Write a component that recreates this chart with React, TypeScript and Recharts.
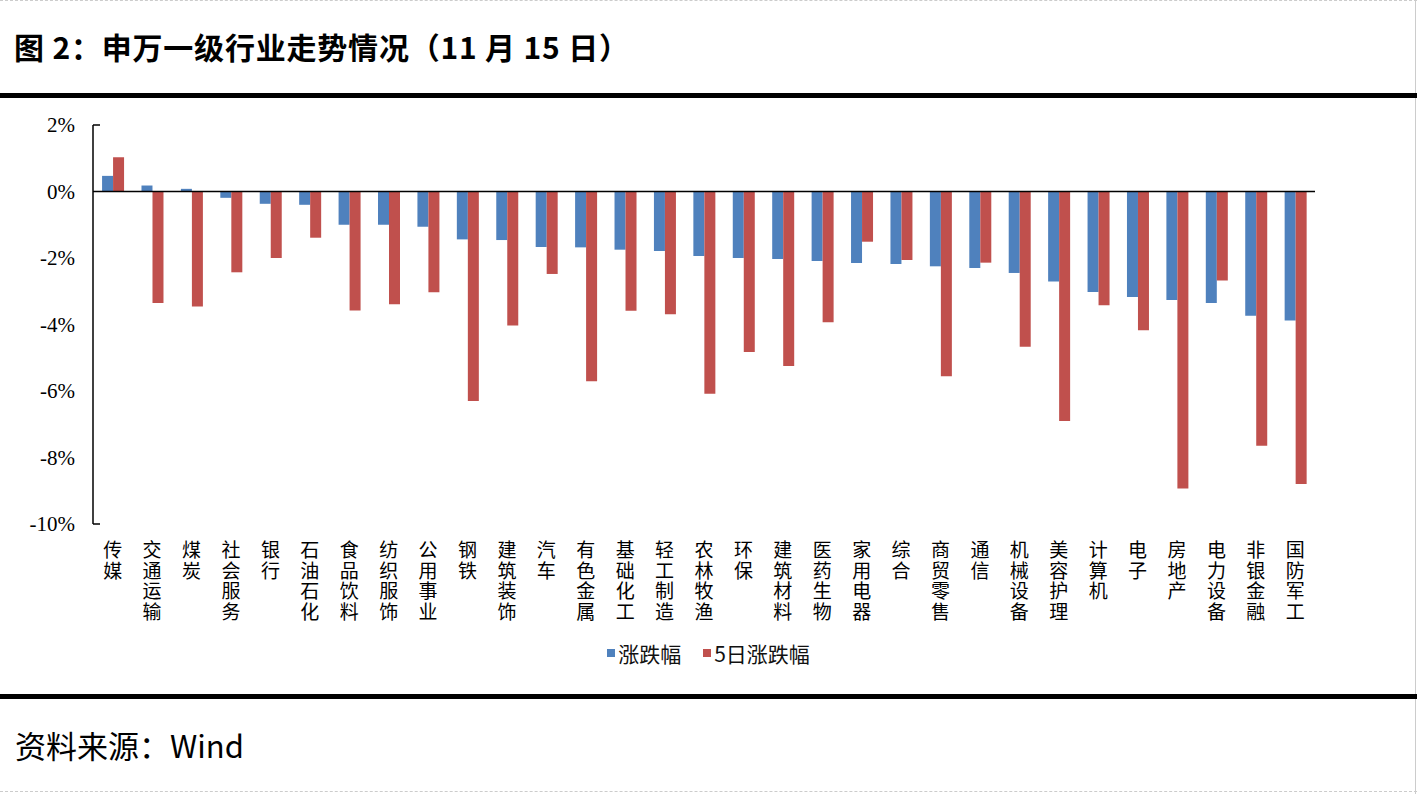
import React from 'react';
import { BarChart, Bar, XAxis, YAxis, ReferenceLine, Legend } from 'recharts';

const categories = [
  '传媒', '交通运输', '煤炭', '社会服务', '银行', '石油石化', '食品饮料', '纺织服饰', '公用事业', '钢铁',
  '建筑装饰', '汽车', '有色金属', '基础化工', '轻工制造', '农林牧渔', '环保', '建筑材料', '医药生物', '家用电器',
  '综合', '商贸零售', '通信', '机械设备', '美容护理', '计算机', '电子', '房地产', '电力设备', '非银金融', '国防军工',
];

const dailyChange = [
  0.47, 0.18, 0.08, -0.19, -0.37, -0.40, -1.00, -1.00, -1.06, -1.44,
  -1.46, -1.67, -1.68, -1.75, -1.79, -1.94, -2.00, -2.03, -2.09, -2.15,
  -2.18, -2.25, -2.30, -2.45, -2.71, -3.02, -3.17, -3.26, -3.35, -3.74, -3.88,
];

const fiveDayChange = [
  1.03, -3.35, -3.46, -2.43, -2.00, -1.39, -3.58, -3.39, -3.03, -6.30,
  -4.03, -2.48, -5.71, -3.59, -3.69, -6.08, -4.83, -5.25, -3.93, -1.51,
  -2.06, -5.56, -2.14, -4.67, -6.90, -3.42, -4.17, -8.93, -2.68, -7.65, -8.80,
];

const yTicks = [2, 0, -2, -4, -6, -8, -10];

const seriesNames = ['涨跌幅', '5日涨跌幅'];

const data = categories.map((name, i) => ({
  name,
  daily: dailyChange[i],
  fiveDay: fiveDayChange[i],
}));

const BLUE = '#4F81BD';
const RED = '#C0504D';

// vertical category label: one character per line
const CategoryTick = (props: any) => {
  const { x, y, payload } = props;
  const chars = String(payload.value).split('');
  return (
    <g>
      {chars.map((c, i) => (
        <text
          key={i}
          x={x}
          y={y + 33 + i * 20.5}
          textAnchor="middle"
          fill="#000"
          style={{ fontFamily: '"Noto Sans CJK SC", sans-serif', fontSize: 19 }}
        >
          {c}
        </text>
      ))}
    </g>
  );
};

const ValueTick = (props: any) => {
  const { x, y, payload } = props;
  const v = payload.value;
  const isEnd = v === yTicks[0] || v === yTicks[yTicks.length - 1];
  return (
    <g>
      <text
        x={x}
        y={y}
        dy={7}
        textAnchor="end"
        fill="#000"
        style={{ fontFamily: '"Liberation Serif", "Times New Roman", serif', fontSize: 21 }}
      >
        {`${v}%`}
      </text>
      {isEnd && <line x1={x + 18} x2={x + 25} y1={y} y2={y} stroke="#000" strokeWidth={1.5} />}
    </g>
  );
};

const LegendContent = (props: any) => {
  const { payload } = props;
  const items = seriesNames
    .map((n) => (payload || []).find((p: any) => p.value === n))
    .filter(Boolean);
  return (
    <div style={{ display: 'flex', justifyContent: 'center', gap: 22 }}>
      {items.map((p: any) => (
        <div key={p.value} style={{ display: 'flex', alignItems: 'center' }}>
          <span style={{ width: 8, height: 8, background: p.color, marginRight: 3, display: 'inline-block' }} />
          <span style={{ fontFamily: '"Noto Sans CJK SC", sans-serif', fontSize: 21, color: '#111' }}>{p.value}</span>
        </div>
      ))}
    </div>
  );
};

export default function App() {
  return (
    <div
      style={{
        position: 'absolute',
        left: 0,
        top: 0,
        width: 1417,
        height: 794,
        background: '#fff',
        overflow: 'hidden',
      }}
    >
      <div style={{ position: 'absolute', left: 0, top: 0, width: 1417, borderTop: '1px dashed #ccc' }} />
      <div style={{ position: 'absolute', left: 1415, top: 0, height: 794, borderLeft: '1px solid #ccc' }} />
      <div
        style={{
          position: 'absolute',
          left: 14,
          top: 24,
          fontFamily: '"Noto Sans CJK SC", sans-serif',
          fontWeight: 700,
          fontSize: 30,
          letterSpacing: 0.8,
          color: '#000',
          whiteSpace: 'nowrap',
        }}
      >
        图 2：申万一级行业走势情况（11 月 15 日）
      </div>
      <div style={{ position: 'absolute', left: 0, top: 93, width: 1417, height: 5, background: '#000' }} />

      <div style={{ position: 'absolute', left: 0, top: 0 }}>
        <BarChart
          width={1417}
          height={690}
          data={data}
          margin={{ top: 125, right: 102, left: 13, bottom: 0 }}
          barCategoryGap="23%"
          barGap={0}
        >
          <XAxis
            dataKey="name"
            axisLine={false}
            tickLine={false}
            tickSize={0}
            tickMargin={0}
            height={166}
            interval={0}
            tick={<CategoryTick />}
          />
          <YAxis
            width={80}
            domain={[-10, 2]}
            ticks={yTicks}
            interval={0}
            axisLine={{ stroke: '#000', strokeWidth: 1.5 }}
            tickLine={false}
            tickSize={0}
            tickMargin={18}
            tick={<ValueTick />}
          />
          <ReferenceLine y={0} stroke="#000" strokeWidth={1.5} />
          <Legend
            layout="horizontal"
            verticalAlign="middle"
            align="center"
            wrapperStyle={{ top: 638, left: 0, width: 1417 }}
            content={<LegendContent />}
          />
          <Bar dataKey="daily" name={seriesNames[0]} fill={BLUE} isAnimationActive={false} />
          <Bar dataKey="fiveDay" name={seriesNames[1]} fill={RED} isAnimationActive={false} />
        </BarChart>
      </div>

      <div style={{ position: 'absolute', left: 0, top: 694, width: 1417, height: 5, background: '#000' }} />
      <div
        style={{
          position: 'absolute',
          left: 15,
          top: 722,
          fontFamily: '"Noto Sans CJK SC", sans-serif',
          fontSize: 31,
          color: '#000',
          whiteSpace: 'nowrap',
        }}
      >
        资料来源：Wind
      </div>
      <div style={{ position: 'absolute', left: 0, top: 791, width: 1417, borderTop: '1px dashed #ccc' }} />
    </div>
  );
}
